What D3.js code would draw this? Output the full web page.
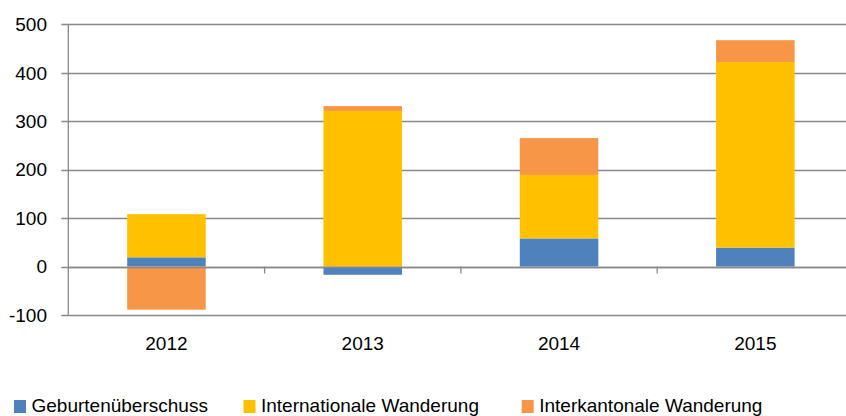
<!DOCTYPE html>
<html>
<head>
<meta charset="utf-8">
<script src="https://cdn.jsdelivr.net/npm/d3@7"></script>
<style>
  html, body { margin: 0; padding: 0; background: #fff; }
  svg { display: block; }
  text { font-family: "Liberation Sans", Arial, sans-serif; fill: #000; }
</style>
</head>
<body>
<svg id="chart" width="846" height="416"></svg>
<script>
const years = ["2012", "2013", "2014", "2015"];
const seriesNames = ["Geburtenüberschuss", "Internationale Wanderung", "Interkantonale Wanderung"];
const geburten = [19, -17, 58, 39];
const international = [89, 321, 131, 383];
const interkantonal = [-89, 10, 76, 45];
const yTicks = [-100, 0, 100, 200, 300, 400, 500];
const colors = ["#4F81BD", "#FFC000", "#F79646"];

const rows = years.map((y, i) => ({
  year: y,
  [seriesNames[0]]: geburten[i],
  [seriesNames[1]]: international[i],
  [seriesNames[2]]: interkantonal[i]
}));

const svg = d3.select("#chart");
const plotLeft = 68.3, plotRight = 853.5, plotTop = 24.2, plotBottom = 315;

const x = d3.scaleBand().domain(years).range([plotLeft, plotRight]).paddingInner(0.6).paddingOuter(0.3);
const y = d3.scaleLinear().domain([-100, 500]).range([plotBottom, plotTop]);
const color = d3.scaleOrdinal().domain(seriesNames).range(colors);

const gridColor = "#898989";

// gridlines
svg.append("g").selectAll("line").data(yTicks).join("line")
  .attr("x1", plotLeft - 7).attr("x2", 846)
  .attr("y1", d => Math.round(y(d)) + 0.5).attr("y2", d => Math.round(y(d)) + 0.5)
  .attr("stroke", gridColor).attr("stroke-width", 1.3);

// y labels
svg.append("g").selectAll("text").data(yTicks).join("text")
  .attr("x", 47).attr("y", d => y(d))
  .attr("dy", "0.36em")
  .attr("text-anchor", "end")
  .style("font-size", "19px")
  .text(d => d);

// stacked bars
const stack = d3.stack().keys(seriesNames).offset(d3.stackOffsetDiverging);
const stacked = stack(rows);

svg.append("g").selectAll("g").data(stacked).join("g")
  .attr("fill", d => color(d.key))
  .selectAll("rect").data(d => d).join("rect")
  .attr("x", d => x(d.data.year))
  .attr("width", x.bandwidth())
  .attr("y", d => y(Math.max(d[0], d[1])))
  .attr("height", d => Math.abs(y(d[0]) - y(d[1])));

// zero line on top
svg.append("line")
  .attr("x1", plotLeft).attr("x2", 846)
  .attr("y1", Math.round(y(0)) + 0.5).attr("y2", Math.round(y(0)) + 0.5)
  .attr("stroke", gridColor).attr("stroke-width", 1.3);

// y axis line
svg.append("line")
  .attr("x1", plotLeft).attr("x2", plotLeft)
  .attr("y1", y(500)).attr("y2", y(-100) + 0.5)
  .attr("stroke", gridColor).attr("stroke-width", 1.3);

// category tick marks between bands
const gap = (x.step() - x.bandwidth()) / 2;
svg.append("g").selectAll("line").data(years.slice(1)).join("line")
  .attr("x1", d => x(d) - gap)
  .attr("x2", d => x(d) - gap)
  .attr("y1", y(0)).attr("y2", y(0) + 7)
  .attr("stroke", gridColor).attr("stroke-width", 1.3);

// x labels
svg.append("g").selectAll("text").data(years).join("text")
  .attr("x", d => x(d) + x.bandwidth() / 2)
  .attr("y", 350)
  .attr("text-anchor", "middle")
  .style("font-size", "19px")
  .text(d => d);

// legend
const legendX = [14, 243.5, 521.7];
const lg = svg.append("g").selectAll("g").data(seriesNames).join("g")
  .attr("transform", (d, i) => `translate(${legendX[i]},0)`);
lg.append("rect").attr("x", 0).attr("y", 400).attr("width", 12).attr("height", 13)
  .attr("fill", d => color(d));
lg.append("text").attr("x", 17.5).attr("y", 411.5)
  .style("font-size", "19px")
  .text(d => d);
</script>
</body>
</html>
